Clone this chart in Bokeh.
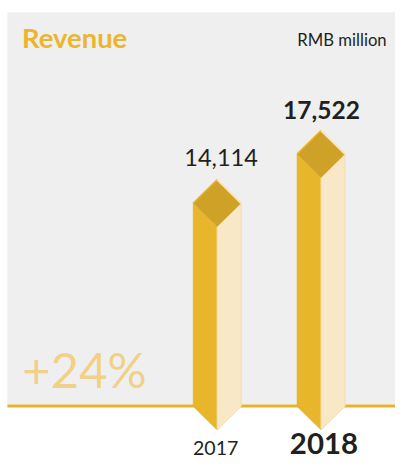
from bokeh.plotting import figure
from bokeh.models import Range1d, Label
from bokeh.embed import file_html
from bokeh.resources import INLINE

# ---- data ----
years = ["2017", "2018"]
revenue = [14114, 17522]
value_labels = ["14,114", "17,522"]
title_text = "Revenue"
unit_text = "RMB million"
growth_text = "+24%"

# ---- layout (designed on a 403x467 grid, then scaled to fit the window) ----
REF_W, REF_H = 403, 467
W, H = 395, 459
S = min(W / REF_W, H / REF_H)
STEP_PX = 106.0          # grid px between bar centres
UPP = 68.25              # revenue units per grid pixel
XC = 221                 # grid x of first bar centre
YZ = 413                 # grid y of the zero level
BASE_FIX = 0.40          # baseline correction (em)

def fx(gx):
    return (gx - XC) / STEP_PX

def fy(gy):
    return (YZ - gy) * UPP

p = figure(width=W, height=H,
           x_range=Range1d(fx(0), fx(REF_W)),
           y_range=Range1d(fy(REF_H), fy(0)),
           x_axis_type=None, y_axis_type=None,
           output_backend="svg", toolbar_location=None,
           min_border=0, outline_line_color=None,
           background_fill_color="white", border_fill_color="white")
p.grid.visible = False

DARK = "#E8B62A"
LIGHT = "#F9E8C7"
TOP = "#D0A127"
GREY = "#EFEFEF"

# background panel and baseline
p.quad(left=fx(7), right=fx(404), top=fy(12), bottom=fy(411), color=GREY, line_color=None)
p.segment(x0=[fx(7)], x1=[fx(404)], y0=[fy(412.5)], y1=[fy(412.5)],
          line_width=3 * S, line_color="#E6B42C")

hw = 24.5 / STEP_PX
hh = 24 * UPP

lx, ly, rx, ry, tx, ty = [], [], [], [], [], []
for i, v in enumerate(revenue):
    c = i
    lx.append([c - hw, c, c, c - hw]); ly.append([v, v - hh, -hh, 0])
    rx.append([c, c + hw, c + hw, c]); ry.append([v - hh, v, 0, -hh])
    tx.append([c - hw, c, c + hw, c]); ty.append([v, v + hh, v, v - hh])

p.patches(lx, ly, fill_color=DARK, line_color=DARK, line_width=0.5)
p.patches(rx, ry, fill_color=LIGHT, line_color="#F3DCA8", line_width=1)
p.patches(tx, ty, fill_color=TOP, line_color=None)
p.multi_line([[x[0], x[1]] for x in tx], [[y[0], y[1]] for y in ty], line_color=DARK, line_width=1.5)
p.multi_line([[x[1], x[2]] for x in tx], [[y[1], y[2]] for y in ty], line_color="#F7E3BC", line_width=2)

FONT = "Lato"
TXT = "#231F20"

def label(x, y_grid_base, text, size, color=TXT, bold=False, align="center"):
    y = y_grid_base + BASE_FIX * size * UPP
    p.add_layout(Label(x=x, y=y, text=text, text_font=FONT,
                       text_font_size="%.1fpx" % (size * S),
                       text_font_style="bold" if bold else "normal",
                       text_color=color, text_align=align,
                       text_baseline="alphabetic"))

# value labels
label(0 + 4 / STEP_PX, revenue[0] + 37 * UPP, value_labels[0], 24)
label(1 + 0.5 / STEP_PX, revenue[1] + 34.5 * UPP, value_labels[1], 25, bold=True)
# year labels
label(0 - 1.5 / STEP_PX, fy(463), years[0], 20)
label(1 + 3 / STEP_PX, fy(463), years[1], 30, bold=True)
# title, unit, growth
label(fx(22), fy(49), title_text, 28, color="#EBB530", bold=True, align="left")
label(fx(394), fy(47), unit_text, 17, align="right")
label(fx(22), fy(395), growth_text, 50, color="#F1D08A", align="left")

open("out.html", "w").write(file_html(p, INLINE))
